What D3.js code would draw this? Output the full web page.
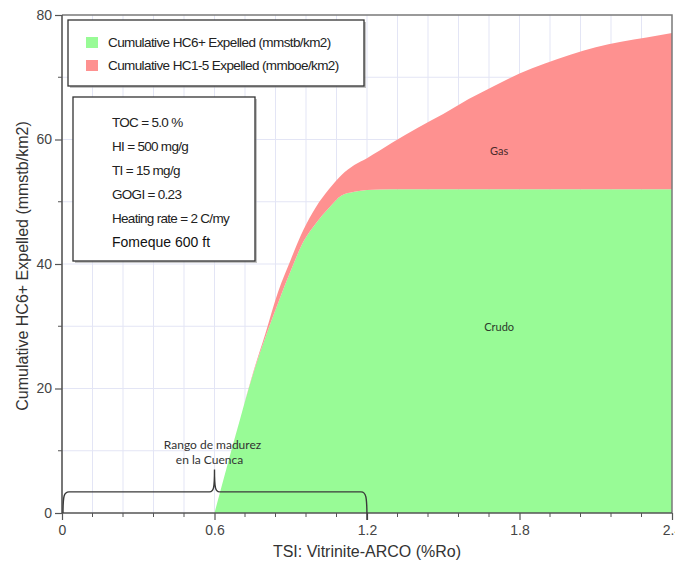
<!DOCTYPE html>
<html>
<head>
<meta charset="utf-8">
<script src="https://cdn.jsdelivr.net/npm/d3@7"></script>
<style>
  html, body { margin: 0; padding: 0; background: #fff; }
  svg { display: block; }
</style>
</head>
<body>
<svg id="chart" width="675" height="567"></svg>
<script>
// Maturity (%Ro) sample points
const ro = [0.6, 0.65, 0.7, 0.75, 0.8, 0.85, 0.9, 0.95, 1.0, 1.05, 1.1, 1.15, 1.2,
            1.3, 1.4, 1.5, 1.6, 1.7, 1.8, 1.9, 2.0, 2.1, 2.2, 2.3, 2.4];
// Cumulative HC6+ expelled (mmstb/km2)
const hc6Expelled = [0, 7.6, 15.0, 22.1, 28.2, 33.7, 38.9, 43.6, 46.6, 49.0, 51.0, 51.6, 51.9,
                     52.0, 52.0, 52.0, 52.0, 52.0, 52.0, 52.0, 52.0, 52.0, 52.0, 52.0, 52.0];
// Cumulative HC1-5 expelled (mmboe/km2), stacked above HC6+
const hc15Expelled = [0, 0, 0, 0.2, 0.6, 1.8, 1.8, 1.9, 2.6, 3.0, 3.3, 4.3, 5.1,
                      7.5, 9.9, 12.1, 14.5, 16.6, 18.6, 20.2, 21.6, 22.8, 23.7, 24.4, 25.1];

const xTicks = [0, 0.6, 1.2, 1.8, 2.4];
const xTickLabels = ["0", "0.6", "1.2", "1.8", "2.4"];
const yTicks = [0, 20, 40, 60, 80];
const seriesKeys = ["hc6", "hc15"];
const seriesColors = ["#98fb96", "#fe9190"];
const legendLabels = ["Cumulative HC6+ Expelled (mmstb/km2)", "Cumulative HC1-5 Expelled (mmboe/km2)"];
const infoLines = ["TOC = 5.0 %", "HI = 500 mg/g", "TI = 15 mg/g", "GOGI = 0.23", "Heating rate = 2 C/my", "Fomeque 600 ft"];
const maturityRange = [0, 1.2];
const maturityLabel = ["Rango de madurez", "en la Cuenca"];

const svg = d3.select("#chart");
const pLeft = 62, pRight = 672, pTop = 15, pBottom = 513;

const x = d3.scaleLinear().domain([0, 2.4]).range([pLeft, pRight]);
const y = d3.scaleLinear().domain([0, 80]).range([pBottom, pTop]);

// grid
const grid = svg.append("g");
grid.selectAll("line.gx").data(d3.range(1, 20).map(i => i * 0.12)).enter().append("line")
  .attr("x1", d => x(d)).attr("x2", d => x(d)).attr("y1", pTop).attr("y2", pBottom)
  .attr("stroke", "#e3e5f5").attr("stroke-width", 1);
grid.selectAll("line.gy").data(d3.range(1, 8).map(i => i * 10)).enter().append("line")
  .attr("x1", pLeft).attr("x2", pRight).attr("y1", d => y(d)).attr("y2", d => y(d))
  .attr("stroke", "#e3e5f5").attr("stroke-width", 1);

// stacked areas
const rows = ro.map((r, i) => ({ ro: r, hc6: hc6Expelled[i], hc15: hc15Expelled[i] }));
const stacked = d3.stack().keys(seriesKeys)(rows);
const area = d3.area().curve(d3.curveMonotoneX)
  .x(d => x(d.data.ro)).y0(d => y(d[0])).y1(d => y(d[1]));
svg.append("g").selectAll("path").data(stacked).enter().append("path")
  .attr("d", area).attr("fill", (d, i) => seriesColors[i]);

// frame
svg.append("path")
  .attr("d", `M${pLeft},${pTop}H${pRight}V${pBottom}`)
  .attr("fill", "none").attr("stroke", "#7a7a7a").attr("stroke-width", 1.5);

// axes
const xAxisMajor = d3.axisBottom(x).tickValues(xTicks).tickFormat((d, i) => xTickLabels[i]).tickSize(7).tickPadding(5);
const gx = svg.append("g").attr("transform", `translate(0,${pBottom})`).call(xAxisMajor);
gx.append("g").selectAll("line").data(d3.range(1, 20).map(i => i * 0.12).filter(v => Math.abs(v / 0.6 - Math.round(v / 0.6)) > 1e-6))
  .enter().append("line").attr("x1", d => x(d)).attr("x2", d => x(d)).attr("y1", 0).attr("y2", 4)
  .attr("stroke", "#555").attr("stroke-width", 1);

const yAxisMajor = d3.axisLeft(y).tickValues(yTicks).tickSize(7).tickPadding(3);
const gy = svg.append("g").attr("transform", `translate(${pLeft},0)`).call(yAxisMajor);
gy.append("g").selectAll("line").data([10, 30, 50, 70]).enter().append("line")
  .attr("x1", -4).attr("x2", 0).attr("y1", d => y(d)).attr("y2", d => y(d))
  .attr("stroke", "#555").attr("stroke-width", 1);

[gx, gy].forEach(g => {
  g.select(".domain").attr("stroke", "#555").attr("stroke-width", 1.6);
  g.selectAll(".tick line").attr("stroke", "#555").attr("stroke-width", 1.2);
  g.selectAll(".tick text").attr("font-family", "Liberation Sans, Arial, sans-serif")
    .attr("font-size", 14).attr("fill", "#444");
});
gx.select(".domain").attr("d", `M${pLeft},0H${pRight}`);
gy.select(".domain").attr("d", `M0,${pTop}V${pBottom}`);

// axis titles
svg.append("text").attr("x", (pLeft + pRight) / 2).attr("y", 557).attr("text-anchor", "middle")
  .attr("font-family", "Liberation Sans, Arial, sans-serif").attr("font-size", 16).attr("fill", "#333")
  .text("TSI: Vitrinite-ARCO (%Ro)");
svg.append("text").attr("transform", "translate(28,266) rotate(-90)").attr("text-anchor", "middle")
  .attr("font-family", "Liberation Sans, Arial, sans-serif").attr("font-size", 16).attr("fill", "#333")
  .text("Cumulative HC6+ Expelled (mmstb/km2)");

// area labels
svg.append("text").attr("x", x(1.72)).attr("y", y(57.5)).attr("text-anchor", "middle")
  .attr("font-family", "Lato, sans-serif").attr("font-size", 11).attr("fill", "#4a2b2b").text("Gas");
svg.append("text").attr("x", x(1.72)).attr("y", y(29.3)).attr("text-anchor", "middle")
  .attr("font-family", "Lato, sans-serif").attr("font-size", 11).attr("fill", "#2b3a2b").text("Crudo");

// boxes with shadow
function box(x0, y0, w, h) {
  svg.append("rect").attr("x", x0 + 2).attr("y", y0 + 2).attr("width", w).attr("height", h)
    .attr("fill", "#9a9a9a").attr("opacity", 0.6);
  svg.append("rect").attr("x", x0).attr("y", y0).attr("width", w).attr("height", h)
    .attr("fill", "#fff").attr("stroke", "#333").attr("stroke-width", 1.3);
}

// legend
box(68, 20, 296, 66);
const lg = svg.append("g");
legendLabels.forEach((t, i) => {
  lg.append("rect").attr("x", 86).attr("y", 37 + i * 23).attr("width", 12).attr("height", 11).attr("fill", seriesColors[i]);
  lg.append("text").attr("x", 108).attr("y", 47 + i * 23)
    .attr("font-family", "Liberation Sans, Arial, sans-serif").attr("font-size", 13.5).attr("letter-spacing", -0.6)
    .attr("fill", "#222").text(t);
});

// parameters box
box(73, 97, 182, 164);
infoLines.forEach((t, i) => {
  const last = i === infoLines.length - 1;
  svg.append("text").attr("x", 112).attr("y", 127 + i * 24)
    .attr("font-family", "Liberation Sans, Arial, sans-serif")
    .attr("font-size", last ? 14 : 13.5).attr("letter-spacing", last ? 0 : -0.7)
    .attr("fill", last ? "#111" : "#222").text(t);
});

// maturity range brace
const by = y(3.4), bx0 = x(maturityRange[0]), bx1 = x(maturityRange[1]);
const bm = (bx0 + bx1) / 2;
const peak = y(7.0);
svg.append("path")
  .attr("d", `M${bx0 + 1},${pBottom} C${bx0 + 1},${by + 4} ${bx0 + 2},${by} ${bx0 + 7},${by}
              H${bm - 5} C${bm - 1},${by} ${bm},${by - 3} ${bm},${peak}
              C${bm},${by - 3} ${bm + 1},${by} ${bm + 5},${by}
              H${bx1 - 6} C${bx1 - 1},${by} ${bx1},${by + 4} ${bx1},${pBottom + 7}`)
  .attr("fill", "none").attr("stroke", "#3a3a3a").attr("stroke-width", 1.4);
maturityLabel.forEach((t, i) => {
  svg.append("text").attr("x", bm - 2 - i * 3).attr("y", 449 + i * 15).attr("text-anchor", "middle")
    .attr("font-family", "Lato, sans-serif").attr("font-size", 12).attr("fill", "#333").text(t);
});
</script>
</body>
</html>
